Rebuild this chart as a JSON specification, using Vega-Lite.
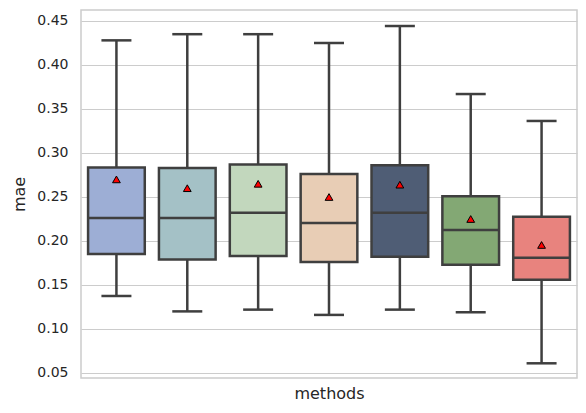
{
  "$schema": "https://vega.github.io/schema/vega-lite/v6.json",
  "width": 496,
  "height": 368,
  "autosize": {"type": "none"},
  "padding": {"left": 81, "top": 10, "right": 9, "bottom": 35},
  "background": "white",
  "config": {
    "view": {"stroke": "#cccccc", "strokeWidth": 1.5},
    "font": "DejaVu Sans",
    "axis": {"labelFont": "DejaVu Sans", "titleFont": "DejaVu Sans", "labelColor": "#262626", "titleColor": "#262626", "titleFontWeight": "normal"}
  },
  "data": {
    "values": [
      {"method": "m1", "low": 0.1375, "q1": 0.1852, "median": 0.2261, "q3": 0.2834, "high": 0.428, "mean": 0.270, "color": "#9daed5"},
      {"method": "m2", "low": 0.120, "q1": 0.179, "median": 0.226, "q3": 0.283, "high": 0.435, "mean": 0.260, "color": "#a4c1c6"},
      {"method": "m3", "low": 0.122, "q1": 0.183, "median": 0.232, "q3": 0.287, "high": 0.435, "mean": 0.265, "color": "#c2d7bd"},
      {"method": "m4", "low": 0.116, "q1": 0.176, "median": 0.2205, "q3": 0.276, "high": 0.425, "mean": 0.250, "color": "#e8cdb5"},
      {"method": "m5", "low": 0.122, "q1": 0.182, "median": 0.232, "q3": 0.286, "high": 0.4443, "mean": 0.264, "color": "#4f5d75"},
      {"method": "m6", "low": 0.119, "q1": 0.173, "median": 0.2125, "q3": 0.2508, "high": 0.367, "mean": 0.225, "color": "#83a874"},
      {"method": "m7", "low": 0.061, "q1": 0.156, "median": 0.181, "q3": 0.2276, "high": 0.3364, "mean": 0.1955, "color": "#e8837e"}
    ]
  },
  "encoding": {
    "x": {
      "field": "method", "type": "nominal", "sort": null,
      "scale": {"paddingInner": 0.2, "paddingOuter": 0.1},
      "axis": {"title": "methods", "labels": false, "ticks": false, "domain": false, "grid": false, "titleFontSize": 16, "titlePadding": 7}
    }
  },
  "layer": [
    {
      "mark": {"type": "rule", "color": "#3f3f3f", "strokeWidth": 2.5},
      "encoding": {
        "y": {
          "field": "low", "type": "quantitative",
          "scale": {"domain": [0.0443, 0.4625], "nice": false, "zero": false},
          "axis": {"title": "mae", "values": [0.05, 0.1, 0.15, 0.2, 0.25, 0.3, 0.35, 0.4, 0.45], "format": ".2f", "labelFontSize": 14, "titleFontSize": 16, "ticks": false, "domain": false, "labelPadding": 13, "titlePadding": 9, "gridColor": "#cccccc", "gridWidth": 1.2}
        },
        "y2": {"field": "high"}
      }
    },
    {
      "mark": {"type": "bar", "stroke": "#3f3f3f", "strokeWidth": 2.5},
      "encoding": {
        "y": {"field": "q1", "type": "quantitative"},
        "y2": {"field": "q3"},
        "fill": {"field": "color", "type": "nominal", "scale": null}
      }
    },
    {
      "mark": {"type": "tick", "color": "#3f3f3f", "thickness": 2.5, "size": 56, "opacity": 1},
      "encoding": {"y": {"field": "median", "type": "quantitative"}}
    },
    {
      "mark": {"type": "tick", "color": "#3f3f3f", "thickness": 2.5, "size": 30, "opacity": 1},
      "encoding": {"y": {"field": "low", "type": "quantitative"}}
    },
    {
      "mark": {"type": "tick", "color": "#3f3f3f", "thickness": 2.5, "size": 30, "opacity": 1},
      "encoding": {"y": {"field": "high", "type": "quantitative"}}
    },
    {
      "mark": {"type": "point", "shape": "triangle-up", "filled": true, "fill": "#ff0000", "stroke": "#000000", "strokeWidth": 1, "size": 60, "opacity": 1},
      "encoding": {"y": {"field": "mean", "type": "quantitative"}}
    }
  ]
}
